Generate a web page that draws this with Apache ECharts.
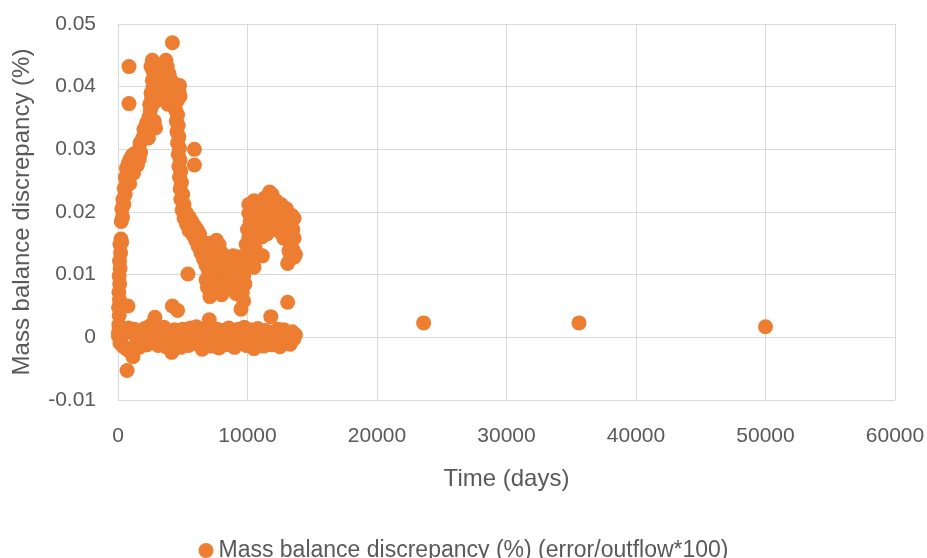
<!DOCTYPE html>
<html>
<head>
<meta charset="utf-8">
<script src="https://cdn.jsdelivr.net/npm/echarts@6/dist/echarts.min.js"></script>
<style>
  html, body { margin: 0; padding: 0; background: #ffffff; }
  #chart { width: 927px; height: 558px; }
</style>
</head>
<body>
<div id="chart"></div>
<script>
// Simulation mass balance discrepancy, [time (days), discrepancy (%)]

const seriesName = 'Mass balance discrepancy (%) (error/outflow*100)';
const xTitle = 'Time (days)';
const yTitle = 'Mass balance discrepancy (%)';
const xTicks = [0, 10000, 20000, 30000, 40000, 50000, 60000];
const yTicks = [-0.01, 0, 0.01, 0.02, 0.03, 0.04, 0.05];

// near-zero output over the whole run
const baseline = [
  [30,0.0002],[150,-0.0009],[260,0.0011],[380,-0.0014],[500,0.0006],[620,-0.0018],[700,-0.0053],
  [770,0.005],[820,0.0015],[900,-0.0022],[1000,0.0008],[1150,-0.0031],[1250,0.0013],[1380,-0.0011],
  [1500,0.0004],[1650,-0.0016],[1780,0.0009],[1900,-0.0005],[2050,0.0014],[2200,-0.0012],
  [2350,0.0003],[2500,0.0019],[2650,-0.0008],[2850,0.0032],[2950,0.0006],[3100,-0.0013],
  [3250,0.0011],[3400,-0.0004],[3550,0.0016],[3700,-0.0015],[3850,0.0007],[4000,0.0002],
  [4150,-0.0024],[4200,0.005],[4350,0.0012],[4600,0.0043],[4500,-0.0009],[4700,0.0006],
  [4850,-0.0016],[5000,0.0013],[5150,-0.0003],[5300,0.0009],[5450,-0.0013],[5600,0.0015],
  [5750,-0.0006],[5900,0.0004],[6050,0.0017],[6200,-0.0011],[6350,0.0008],[6500,-0.0019],
  [6650,0.0005],[6800,0.0014],[6950,-0.0008],[7050,0.0028],[7200,-0.0014],[7350,0.0007],
  [7500,-0.0003],[7650,0.0013],[7800,-0.0017],[7950,0.0004],[8100,0.0011],[8250,-0.0012],
  [8400,0.0002],[8550,0.0015],[8700,-0.0007],[8850,0.0009],[9000,-0.0016],[9150,0.0006],
  [9300,0.0013],[9450,-0.0009],[9600,0.0003],[9750,0.0016],[9900,-0.0013],[10050,0.0007],
  [10200,-0.0004],[10350,0.0012],[10500,-0.0018],[10650,0.0005],[10800,0.0014],[10950,-0.0009],
  [11100,0.0008],[11250,-0.0014],[11400,0.0011],[11550,-0.0002],[11800,0.0033],[11700,0.0006],
  [11900,-0.0012],[12050,0.0009],[12200,-0.0006],[12350,0.0013],[12500,-0.0015],[12650,0.0004],
  [12800,0.0012],[12950,-0.0008],[13100,0.0056],[13150,0.0007],[13300,-0.0011],[13450,0.0009],
  [13600,-0.0002],[13700,0.0004]
];

// early climb near the start of the run
const earlyRise = [
  [30,0.0008],[60,0.002],[90,0.0035],[40,0.0048],[110,0.006],[70,0.0072],[130,0.0085],
  [90,0.0098],[160,0.011],[120,0.0122],[200,0.0135],[150,0.0148],[230,0.0157],[280,0.0152],
  [250,0.0185],[350,0.0192],[300,0.0205],[450,0.0212],[380,0.022],[550,0.0228],[480,0.0238],
  [650,0.0245],[560,0.0255],[750,0.026],[650,0.027],[900,0.0268],[800,0.0278],[1000,0.0275],
  [950,0.0285],[1150,0.028],[1100,0.029],[1300,0.0285],[1250,0.0293],[1450,0.029],
  [1600,0.0298],[1750,0.0295],[1500,0.0275],[1200,0.0262],[900,0.0245],[1650,0.0285],
  [850,0.0432],[850,0.0373]
];

// climb to the main peak
const peakRise = [
  [1700,0.031],[1900,0.0318],[2100,0.0322],[2000,0.0332],[2300,0.033],[2200,0.0342],
  [2400,0.0352],[2500,0.0362],[2450,0.0372],[2600,0.0382],[2550,0.039],[2700,0.0398],
  [2650,0.041],[2350,0.0318],[2800,0.0345],[2900,0.0334]
];

// main peak
const mainPeak = [
  [2550,0.0432],[2650,0.0442],[2700,0.0425],[2850,0.0418],[3050,0.0432],[3250,0.0425],
  [3700,0.0442],[3800,0.0432],[3950,0.042],[4100,0.041],[4300,0.0405],[4500,0.0398],
  [4700,0.0392],[4800,0.0385],[4750,0.0402],[4600,0.0378],[4400,0.038],[4200,0.0372],
  [4000,0.0385],[3800,0.0398],[3600,0.0408],[3400,0.0412],[3200,0.0402],[3000,0.0395],
  [2800,0.0385],[2700,0.0372],[3350,0.0388],[3600,0.0378],[3850,0.0372],[4200,0.047],
  [3500,0.0428],[3100,0.0415],[2950,0.0435]
];

// recession after the main peak
const recession = [
  [4450,0.0362],[4600,0.0355],[4500,0.0345],[4650,0.0338],[4550,0.0328],[4700,0.032],
  [4600,0.031],[4750,0.0302],[4650,0.0292],[4800,0.0283],[4700,0.0273],[4850,0.0265],
  [4750,0.0255],[4900,0.0247],[4800,0.0237],[5000,0.0228],[4850,0.022],[5100,0.0212],
  [4950,0.0203],[5300,0.0198],[5100,0.019],[5500,0.0192],[5300,0.018],[5700,0.0185],
  [5900,0.0178],[5500,0.017],[6100,0.0172],[5800,0.0163],[6300,0.0165],[6000,0.0155],
  [5900,0.030],[5900,0.0275]
];

// trough between the two peaks
const trough = [
  [6200,0.0145],[6500,0.0152],[6400,0.0135],[6700,0.0142],[6600,0.0125],[6900,0.0132],
  [6800,0.0115],[7100,0.0122],[7000,0.0105],[7300,0.0112],[7200,0.0095],[7500,0.0102],
  [7400,0.0085],[7700,0.0092],[7600,0.0075],[7900,0.0085],[7300,0.0075],[8100,0.0095],
  [8300,0.0088],[8000,0.0068],[8500,0.0078],[8700,0.0092],[8400,0.0105],[8800,0.0115],
  [8600,0.0125],[8900,0.013],[9100,0.0122],[9300,0.0128],[9000,0.0105],[9200,0.0095],
  [9400,0.0085],[9100,0.007],[8200,0.012],[8000,0.0135],[7800,0.0148],[7600,0.0155],
  [7400,0.0142],[7000,0.015],[5400,0.0101],[6900,0.008],[7100,0.0065],[6800,0.0092]
];

// second peak
const secondPeak = [
  [9500,0.0045],[9700,0.0058],[9600,0.0072],[9800,0.0085],[9700,0.0098],[9900,0.011],
  [9800,0.0122],[10000,0.0135],[9900,0.0148],[10100,0.016],[10000,0.0172],[10200,0.0185],
  [10100,0.0198],[10300,0.0208],
  [10100,0.0212],[10500,0.0218],[10900,0.0215],[11300,0.0222],[11700,0.0232],[11900,0.0228],
  [12200,0.0218],[12600,0.0212],[13000,0.0205],[13400,0.0195],[13600,0.019],
  [10400,0.0195],[10800,0.02],[11200,0.0205],[11600,0.021],[12000,0.0205],[12400,0.02],
  [12800,0.0195],[13200,0.018],[10600,0.018],[11000,0.0185],[11400,0.019],[11800,0.0192],
  [12200,0.0188],[12600,0.0182],[13000,0.017],[10400,0.0165],[10800,0.017],[11200,0.0175],
  [11600,0.0178],[12000,0.0175],[12400,0.017],[10300,0.015],[10700,0.0158],[11100,0.016],
  [11500,0.0165],[12800,0.0158],
  [10200,0.0138],[10600,0.0142],[10400,0.0125],[10800,0.013],[10500,0.0112],[11150,0.013],
  [13200,0.0165],[13500,0.0172],[13300,0.015],[13600,0.0158],[13200,0.0138],[13500,0.014],
  [13300,0.0125],[13600,0.0128],[13100,0.0118],[13700,0.0132]
];

// late-time outputs
const lateOutputs = [[23600,0.0023],[35600,0.0023],[50000,0.0017]];

const points = [].concat(baseline, earlyRise, peakRise, mainPeak, recession, trough, secondPeak, lateOutputs);

const textColor = '#595959';
const gridColor = '#d9d9d9';
const font = '"Liberation Sans", Arial, sans-serif';

const chart = echarts.init(document.getElementById('chart'), null, { renderer: 'canvas' });
chart.setOption({
  animation: false,
  backgroundColor: '#ffffff',
  textStyle: { fontFamily: font, color: textColor },
  grid: { left: 118, right: 32, top: 24, bottom: 158, containLabel: false, outerBoundsMode: 'none' },
  xAxis: {
    type: 'value',
    min: xTicks[0],
    max: xTicks[xTicks.length - 1],
    interval: xTicks[1] - xTicks[0],
    name: xTitle,
    nameLocation: 'middle',
    nameGap: 67,
    nameTextStyle: { fontSize: 24, color: textColor, fontFamily: font },
    axisLine: { show: false },
    axisTick: { show: false },
    axisLabel: {
      fontSize: 21, color: textColor, margin: 26, fontFamily: font,
      formatter: v => String(Math.round(v))
    },
    splitLine: { show: true, lineStyle: { color: gridColor, width: 1 } }
  },
  yAxis: {
    type: 'value',
    min: yTicks[0],
    max: yTicks[yTicks.length - 1],
    interval: 0.01,
    name: yTitle,
    nameLocation: 'middle',
    nameGap: 84,
    nameTextStyle: { fontSize: 24, color: textColor, fontFamily: font },
    axisLine: { show: false },
    axisTick: { show: false },
    axisLabel: {
      fontSize: 21, color: textColor, margin: 22, fontFamily: font,
      formatter: v => String(parseFloat(Number(v).toFixed(2)))
    },
    splitLine: { show: true, lineStyle: { color: gridColor, width: 1 } }
  },
  legend: {
    show: true,
    left: 'center',
    top: 534,
    icon: 'circle',
    itemWidth: 15,
    itemHeight: 15,
    itemGap: 6,
    textStyle: { fontSize: 23, color: textColor, fontFamily: font },
    data: [seriesName]
  },
  series: [{
    name: seriesName,
    type: 'scatter',
    data: points,
    symbol: 'circle',
    symbolSize: 15,
    itemStyle: { color: '#ED7D31', opacity: 1 },
    emphasis: { disabled: true }
  }]
});
</script>
</body>
</html>
